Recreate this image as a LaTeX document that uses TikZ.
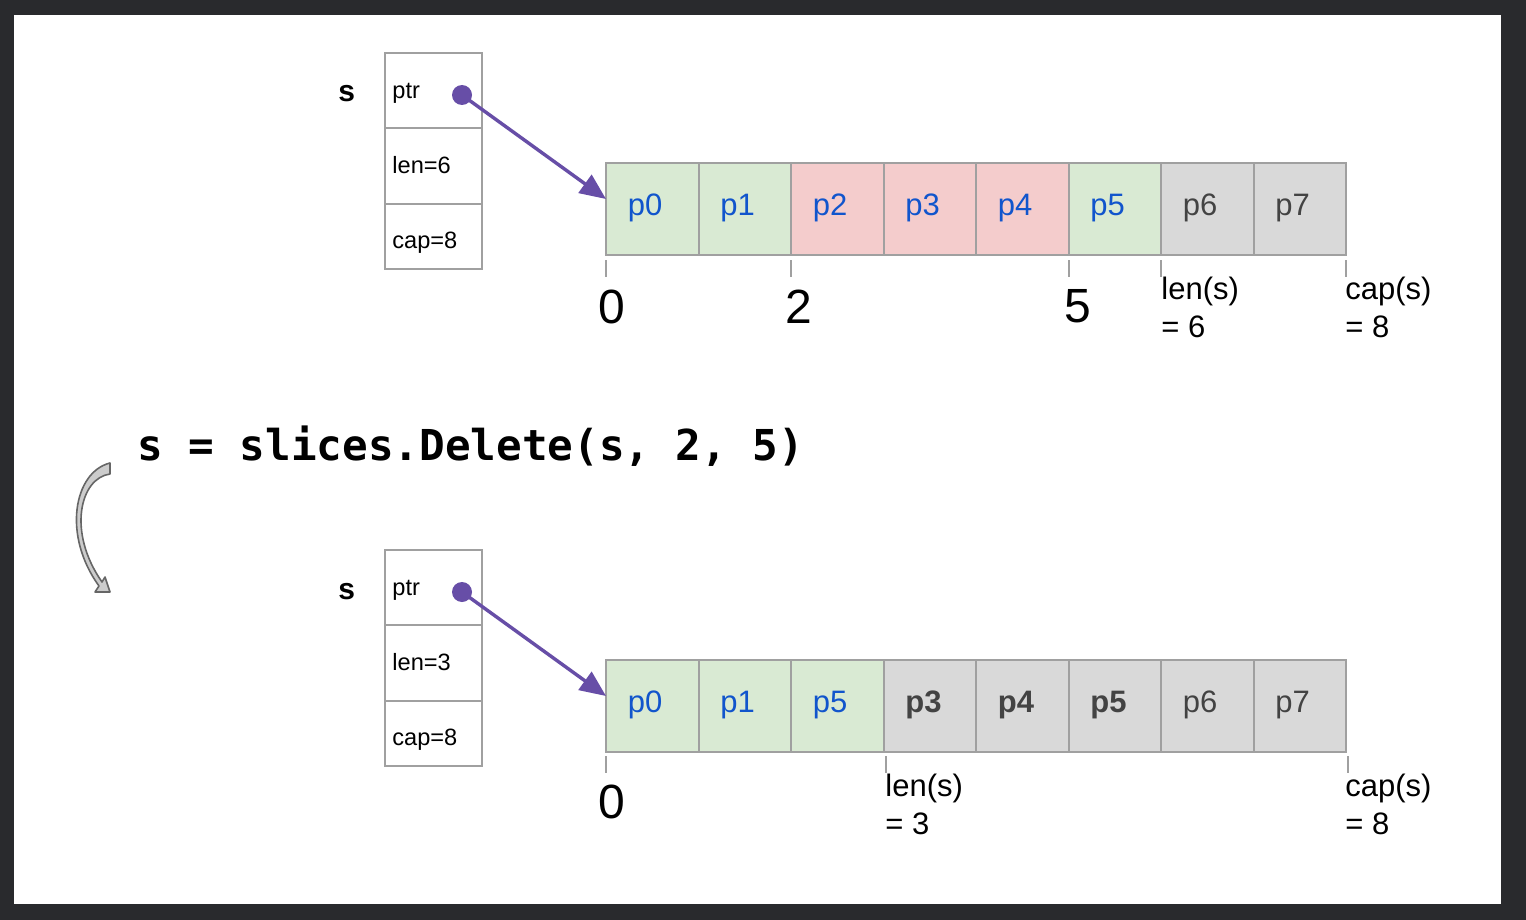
\documentclass[tikz,border=0pt]{standalone}
\usepackage{fontspec}
\setmainfont{Liberation Sans}
\newfontfamily\codefont{DejaVu Sans Mono}
\usetikzlibrary{arrows.meta,calc}
\definecolor{bgdark}{HTML}{292A2D}
\definecolor{cellgreen}{HTML}{D9EAD3}
\definecolor{cellpink}{HTML}{F4CCCC}
\definecolor{cellgray}{HTML}{D9D9D9}
\definecolor{linegray}{HTML}{A0A0A0}
\definecolor{txtblue}{HTML}{1155CC}
\definecolor{txtdark}{HTML}{434343}
\definecolor{ptrpurple}{HTML}{674EA7}
\tikzset{
  structcell/.style={draw=linegray, line width=1pt, minimum width=48.5pt, inner sep=0pt, outer sep=0pt},
  arrcell/.style={draw=linegray, line width=1pt, minimum width=46.25pt, minimum height=46pt, inner sep=0pt, outer sep=0pt},
  fieldtxt/.style={anchor=base west, inner sep=0pt, font=\fontsize{11.8}{13}\selectfont},
  celltxt/.style={anchor=base west, inner sep=0pt, font=\fontsize{15.5}{18}\selectfont},
  idxtxt/.style={anchor=base west, inner sep=0pt, font=\fontsize{24}{28}\selectfont},
  bndtxt/.style={anchor=base west, inner sep=0pt, font=\fontsize{15.5}{19}\selectfont},
  varname/.style={anchor=base west, inner sep=0pt, font=\bfseries\fontsize{15}{18}\selectfont},
  tick/.style={draw=linegray, line width=1pt},
  ptrdot/.style={circle, fill=ptrpurple, minimum size=10pt, inner sep=0pt},
  ptrarrow/.style={draw=ptrpurple, line width=1.7pt, -{Triangle[length=13pt,width=11pt]}},
}
\begin{document}
\begin{tikzpicture}[x=0.5pt,y=-0.5pt]
\fill[bgdark] (0,0) rectangle (1526,920);
\fill[white] (14,15) rectangle (1501,904);
\useasboundingbox (0,0) rectangle (1526,920);

% ---------- top slice header ----------
\node[varname] (s1) at (338,102) {s};
\node[structcell, minimum height=37.5pt] (ptr1) at (433.5,90.5) {};
\node[structcell, minimum height=38pt] (len1) at (433.5,166) {};
\node[structcell, minimum height=32.5pt] (cap1) at (433.5,236.5) {};
\node[fieldtxt] (ptr1t) at (392,98) {ptr};
\node[fieldtxt] (len1t) at (392,173) {len=6};
\node[fieldtxt] (cap1t) at (392,248) {cap=8};

% ---------- top array ----------
\foreach \i/\col/\tc in {0/cellgreen/txtblue,1/cellgreen/txtblue,2/cellpink/txtblue,3/cellpink/txtblue,4/cellpink/txtblue,5/cellgreen/txtblue,6/cellgray/txtdark,7/cellgray/txtdark}{
  \node[arrcell, fill=\col] (a\i) at ({652.25+92.5*\i},209) {};
  \node[celltxt, text=\tc] (at\i) at ({627.5+92.5*\i},215) {p\i};
}
\node[ptrdot] (dot1) at (462,95) {};
\coordinate (tip1) at (606,199);
\draw[ptrarrow] (dot1.center) -- (tip1);

\foreach \x in {606,791,1068.5,1161,1346}{
  \draw[tick] (\x,260) -- (\x,277);
}
\node[idxtxt] (i0) at (598,323) {0};
\node[idxtxt] (i2) at (785,323) {2};
\node[idxtxt] (i5) at (1064,322) {5};
\node[bndtxt] (len1b) at (1161,299) {len(s)};
\node[bndtxt] (len1v) at (1161,337) {= 6};
\node[bndtxt] (cap1b) at (1345,299) {cap(s)};
\node[bndtxt] (cap1v) at (1345,337) {= 8};

% ---------- code ----------
\node[anchor=base west, inner sep=0pt, font=\codefont\bfseries\fontsize{21.3}{24}\selectfont] (code) at (137,460) {s = slices.Delete(s, 2, 5)};

% ---------- curved arrow ----------
\draw[draw=black!60, fill=black!20, line width=0.8pt, line join=round]
  (110,463) .. controls (74,472) and (62,535) .. (99,586)
  -- (95,592) -- (110,592) -- (105,577) -- (102,582)
  .. controls (67,532) and (80,478) .. (110,474) -- cycle;

% ---------- bottom slice header ----------
\node[varname] (s2) at (338,599) {s};
\node[structcell, minimum height=37.5pt] (ptr2) at (433.5,587.5) {};
\node[structcell, minimum height=38pt] (len2) at (433.5,663) {};
\node[structcell, minimum height=32.5pt] (cap2) at (433.5,733.5) {};
\node[fieldtxt] (ptr2t) at (392,595) {ptr};
\node[fieldtxt] (len2t) at (392,670) {len=3};
\node[fieldtxt] (cap2t) at (392,745) {cap=8};

% ---------- bottom array ----------
\foreach \i/\lab/\col/\tc/\wt in {0/p0/cellgreen/txtblue/\mdseries,1/p1/cellgreen/txtblue/\mdseries,2/p5/cellgreen/txtblue/\mdseries,3/p3/cellgray/txtdark/\bfseries,4/p4/cellgray/txtdark/\bfseries,5/p5/cellgray/txtdark/\bfseries,6/p6/cellgray/txtdark/\mdseries,7/p7/cellgray/txtdark/\mdseries}{
  \node[arrcell, fill=\col] (b\i) at ({652.25+92.5*\i},706) {};
  \node[celltxt, text=\tc] (bt\i) at ({627.5+92.5*\i},712) {\wt\lab};
}
\node[ptrdot] (dot2) at (462,592) {};
\coordinate (tip2) at (606,696);
\draw[ptrarrow] (dot2.center) -- (tip2);

\foreach \x in {606,886,1348}{
  \draw[tick] (\x,756) -- (\x,773);
}
\node[idxtxt] (j0) at (598,818) {0};
\node[bndtxt] (len2b) at (885,796) {len(s)};
\node[bndtxt] (len2v) at (885,834) {= 3};
\node[bndtxt] (cap2b) at (1345,796) {cap(s)};
\node[bndtxt] (cap2v) at (1345,834) {= 8};
\end{tikzpicture}
\end{document}
